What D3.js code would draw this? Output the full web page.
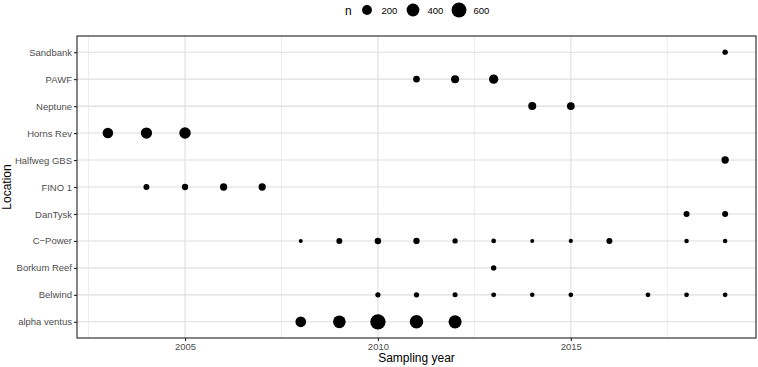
<!DOCTYPE html>
<html>
<head>
<meta charset="UTF-8">
<script src="https://cdn.jsdelivr.net/npm/d3@7"></script>
<style>
  body { margin: 0; background: #fff; }
  text { font-family: "Liberation Sans", Arial, sans-serif; }
</style>
</head>
<body>
<script>
    // locations, bottom to top
    var locations = ["alpha ventus", "Belwind", "Borkum Reef", "C\u2212Power", "DanTysk",
        "FINO 1", "Halfweg GBS", "Horns Rev", "Neptune", "PAWF", "Sandbank"];

    // sampling years and sample counts per location
    var alphaYears = [2008, 2009, 2010, 2011, 2012], alphaN = [250, 395, 630, 460, 430];
    var belwindYears = [2010, 2011, 2012, 2013, 2014, 2015, 2017, 2018, 2019], belwindN = [25, 25, 20, 18, 12, 15, 15, 15, 15];
    var borkumYears = [2013], borkumN = [27];
    var cpowerYears = [2008, 2009, 2010, 2011, 2012, 2013, 2014, 2015, 2016, 2018, 2019], cpowerN = [6, 41, 55, 50, 25, 15, 6, 8, 41, 12, 12];
    var dantyskYears = [2018, 2019], dantyskN = [41, 41];
    var finoYears = [2004, 2005, 2006, 2007], finoN = [40, 50, 80, 80];
    var halfwegYears = [2019], halfwegN = [85];
    var hornsYears = [2003, 2004, 2005], hornsN = [240, 290, 300];
    var neptuneYears = [2014, 2015], neptuneN = [110, 100];
    var pawfYears = [2011, 2012, 2013], pawfN = [60, 110, 170];
    var sandbankYears = [2019], sandbankN = [27];

    var legendN = [200, 400, 600];
    var xTicks = [2005, 2010, 2015];
    var xMinor = [2002.5, 2007.5, 2012.5, 2017.5];

    var series = [
        [alphaYears, alphaN], [belwindYears, belwindN], [borkumYears, borkumN], [cpowerYears, cpowerN],
        [dantyskYears, dantyskN], [finoYears, finoN], [halfwegYears, halfwegN], [hornsYears, hornsN],
        [neptuneYears, neptuneN], [pawfYears, pawfN], [sandbankYears, sandbankN]
    ];
    var points = [];
    series.forEach(function(s, i) {
        s[0].forEach(function(yr, j) {
            points.push({ loc: locations[i], year: yr, n: s[1][j] });
        });
    });

    var width = 758, height = 367;
    var pLeft = 77, pRight = 756, pTop = 36, pBottom = 338;

    var x = d3.scaleLinear().domain([2002.2, 2019.8]).range([pLeft, pRight]);
    var y = d3.scalePoint().domain(locations.slice().reverse()).range([pTop, pBottom]).padding(0.6);
    var r = d3.scaleSqrt().domain([0, 640]).range([1.4, 7.7]);

    var svg = d3.select("body").append("svg")
        .attr("width", width).attr("height", height);

    var grid = svg.append("g");
    grid.selectAll(".minor").data(xMinor).enter().append("line")
        .attr("x1", function(d) { return x(d); }).attr("x2", function(d) { return x(d); })
        .attr("y1", pTop).attr("y2", pBottom)
        .attr("stroke", "#e8e8e8").attr("stroke-width", 0.8);
    grid.selectAll(".major").data(xTicks).enter().append("line")
        .attr("x1", function(d) { return x(d); }).attr("x2", function(d) { return x(d); })
        .attr("y1", pTop).attr("y2", pBottom)
        .attr("stroke", "#dedede").attr("stroke-width", 1.1);
    grid.selectAll(".hmajor").data(locations).enter().append("line")
        .attr("x1", pLeft).attr("x2", pRight)
        .attr("y1", function(d) { return y(d); }).attr("y2", function(d) { return y(d); })
        .attr("stroke", "#dedede").attr("stroke-width", 1.1);

    svg.append("g").selectAll("circle").data(points).enter().append("circle")
        .attr("cx", function(d) { return x(d.year); })
        .attr("cy", function(d) { return y(d.loc); })
        .attr("r", function(d) { return r(d.n); })
        .attr("fill", "#000");

    svg.append("rect")
        .attr("x", pLeft).attr("y", pTop)
        .attr("width", pRight - pLeft).attr("height", pBottom - pTop)
        .attr("fill", "none").attr("stroke", "#222").attr("stroke-width", 1.1);

    // axes
    var xAxis = svg.append("g").attr("transform", "translate(0," + pBottom + ")")
        .call(d3.axisBottom(x).tickValues(xTicks).tickFormat(d3.format("d")).tickSize(3).tickPadding(2));
    var yAxis = svg.append("g").attr("transform", "translate(" + pLeft + ",0)")
        .call(d3.axisLeft(y).tickSize(3).tickPadding(2));
    [xAxis, yAxis].forEach(function(a) {
        a.select(".domain").remove();
        a.selectAll(".tick line").attr("stroke", "#222").attr("stroke-width", 1.1);
        a.selectAll(".tick text").attr("fill", "#4d4d4d").style("font-size", "9.5px")
            .style("font-family", "'Liberation Sans', Arial, sans-serif");
    });

    svg.append("text")
        .attr("x", (pLeft + pRight) / 2).attr("y", 362)
        .attr("text-anchor", "middle").style("font-size", "12px")
        .text("Sampling year");
    svg.append("text")
        .attr("transform", "translate(11," + ((pTop + pBottom) / 2) + ") rotate(-90)")
        .attr("text-anchor", "middle").style("font-size", "12px")
        .text("Location");

    // legend
    var legend = svg.append("g");
    legend.append("text").attr("x", 345).attr("y", 14.5).style("font-size", "12px").text("n");
    var lx = d3.scalePoint().domain(legendN).range([367, 459]);
    legend.selectAll("circle").data(legendN).enter().append("circle")
        .attr("cx", function(d) { return lx(d); }).attr("cy", 10)
        .attr("r", function(d) { return r(d); }).attr("fill", "#000");
    legend.selectAll(".lab").data(legendN).enter().append("text")
        .attr("x", function(d) { return lx(d) + 14.5; }).attr("y", 13.5)
        .style("font-size", "9.5px").attr("fill", "#000")
        .text(function(d) { return d; });
</script>
</body>
</html>
